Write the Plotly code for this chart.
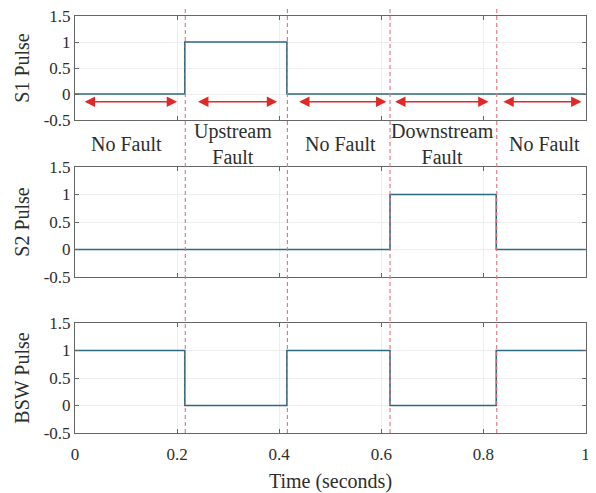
import plotly.graph_objects as go

# ---- data ----
time_breaks = [0.0, 0.215, 0.415, 0.617, 0.825, 1.0]
s1_pulse = [0, 1, 0, 0, 0]
s2_pulse = [0, 0, 0, 1, 0]
bsw_pulse = [1, 0, 1, 0, 1]
panel_titles = ["S1 Pulse", "S2 Pulse", "BSW Pulse"]
x_ticks = [0, 0.2, 0.4, 0.6, 0.8, 1]
x_tick_labels = ["0", "0.2", "0.4", "0.6", "0.8", "1"]
y_ticks = [-0.5, 0, 0.5, 1, 1.5]
y_tick_labels = ["-0.5", "0", "0.5", "1", "1.5"]
fault_lines = [0.216, 0.416, 0.617, 0.826]
arrow_starts = [0.016, 0.238, 0.436, 0.624, 0.836]
arrow_ends = [0.200, 0.396, 0.610, 0.810, 0.992]
arrow_y = -0.15
region_labels = ["No Fault", "Upstream<br>Fault", "No Fault", "Downstream<br>Fault", "No Fault"]
region_centers = [0.10, 0.31, 0.52, 0.72, 0.92]

FONT = "Liberation Serif"
TEXT_COLOR = "#2e2e2e"
LINE_COLOR = "#2c6a80"
fig = go.Figure()

series = [s1_pulse, s2_pulse, bsw_pulse]
for i, vals in enumerate(series):
    suffix = "" if i == 0 else str(i + 1)
    fig.add_trace(go.Scatter(
        x=time_breaks, y=vals + [vals[-1]], mode="lines", line_shape="hv",
        line=dict(color=LINE_COLOR, width=1.6),
        xaxis="x" + suffix, yaxis="y" + suffix, showlegend=False, hoverinfo="skip"))

# page body has an 8px margin, so the figure is sized to fill the rest of the window
H = 417.0
domains = [(313 / H, 1.0), (156 / H, 266 / H), (0.0, 110 / H)]

axis_common = dict(showline=True, linecolor="#666666", linewidth=1, mirror="ticks",
                   ticks="inside", ticklen=4, tickcolor="#666666",
                   showgrid=True, gridcolor="#eeeeee", gridwidth=1, zeroline=False,
                   automargin=False, ticklabeloverflow="allow",
                   tickfont=dict(family=FONT, size=17, color=TEXT_COLOR))

layout = dict(
    width=588, height=485,
    margin=dict(l=67, r=10, t=8, b=60),
    paper_bgcolor="white", plot_bgcolor="white",
    font=dict(family=FONT, color=TEXT_COLOR),
)
for i in range(3):
    suffix = "" if i == 0 else str(i + 1)
    xa = dict(axis_common, domain=[0, 1], range=[0, 1.0008], tickvals=x_ticks,
              ticktext=x_tick_labels, anchor="y" + suffix,
              showticklabels=(i == 2), ticklabelstandoff=6)
    if i == 2:
        xa["title"] = dict(text="Time (seconds)", font=dict(family=FONT, size=20, color=TEXT_COLOR), standoff=12)
    ya = dict(axis_common, domain=list(domains[i]), range=[-0.5, 1.5], tickvals=y_ticks,
              ticktext=y_tick_labels, anchor="x" + suffix,
              title=dict(text=panel_titles[i], font=dict(family=FONT, size=20, color=TEXT_COLOR), standoff=8))
    layout["xaxis" + suffix] = xa
    layout["yaxis" + suffix] = ya
fig.update_layout(**layout)

# vertical dashed fault lines spanning all panels
for t in fault_lines:
    fig.add_shape(type="line", xref="x3", yref="paper", x0=t, x1=t, y0=0, y1=425 / H,
                  line=dict(color="#e8707a", width=1.1, dash="4px,3px"), layer="above")

# double-headed arrows in top panel
for a, b in zip(arrow_starts, arrow_ends):
    fig.add_annotation(x=b, y=arrow_y, ax=a, ay=arrow_y, xref="x", yref="y",
                       axref="x", ayref="y", text="", showarrow=True,
                       arrowhead=2, startarrowhead=2, arrowside="end+start",
                       arrowsize=1.3, startarrowsize=1.3, arrowwidth=1.6, arrowcolor="#e02828")

# region labels between panel 1 and panel 2
label_y = (domains[0][0] + domains[1][1]) / 2
for xc, txt in zip(region_centers, region_labels):
    fig.add_annotation(x=xc, y=label_y, xref="x", yref="paper", text=txt, showarrow=False,
                       font=dict(family=FONT, size=20, color=TEXT_COLOR), align="center",
                       yanchor="middle")

fig.write_html("out.html")
